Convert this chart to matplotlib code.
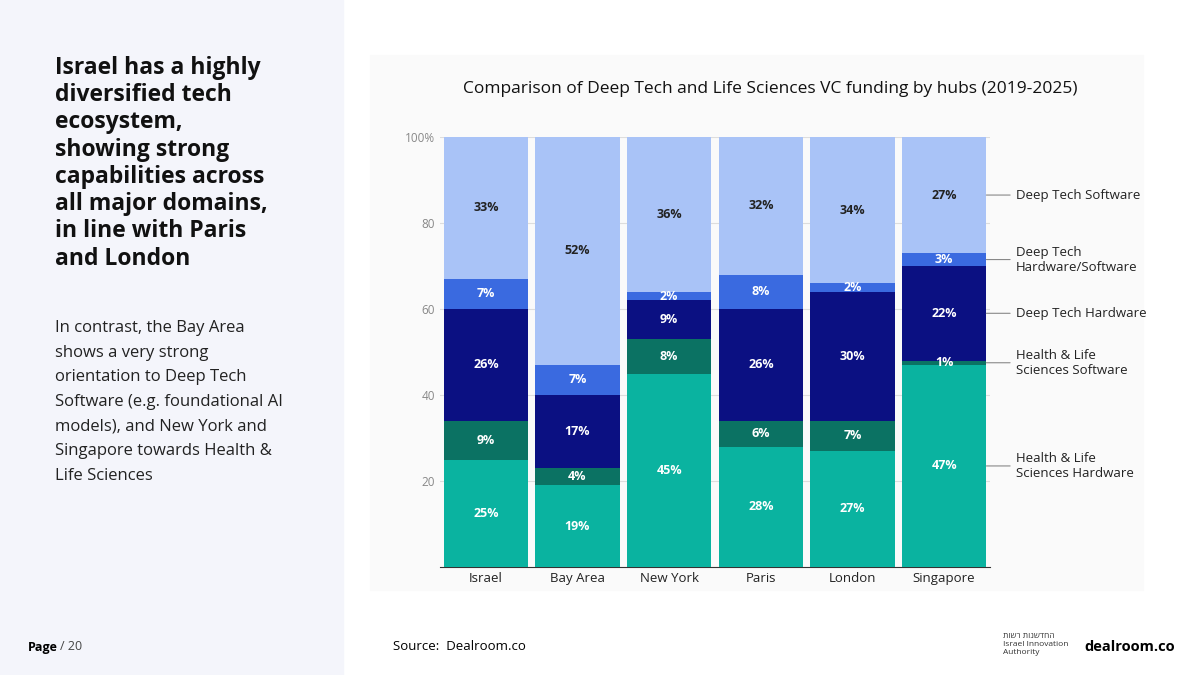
import numpy as np
import matplotlib.pyplot as plt

plt.rcParams['font.family'] = ['Open Sans', 'DejaVu Sans']

# Colour palette
HLS_HW = '#0AB3A0'
HLS_SW = '#0B7263'
DT_HW = '#0B1082'
DT_HWSW = '#3A6AE0'
DT_SW = '#A9C3F7'
PANEL = '#F4F5FB'

# ============================================
# 1. DATA
# ============================================
hubs = ['Israel', 'Bay Area', 'New York', 'Paris', 'London', 'Singapore']
segments = {
    'Health & Life\nSciences Hardware': [25, 19, 45, 28, 27, 47],
    'Health & Life\nSciences Software': [9, 4, 8, 6, 7, 1],
    'Deep Tech Hardware': [26, 17, 9, 26, 30, 22],
    'Deep Tech\nHardware/Software': [7, 7, 2, 8, 2, 3],
    'Deep Tech Software': [33, 53, 36, 32, 34, 27],
}
labels_shown = {'Deep Tech Software': [33, 52, 36, 32, 34, 27]}
colors = [HLS_HW, HLS_SW, DT_HW, DT_HWSW, DT_SW]
text_colors = ['white', 'white', 'white', 'white', '#222222']

# ============================================
# 2. FIGURE
# ============================================
fig = plt.figure(figsize=(12, 6.75), dpi=100)
bg = fig.add_axes([0, 0, 1, 1], zorder=-10)
bg.axis('off')
bg.set_xlim(0, 1200)
bg.set_ylim(675, 0)
bg.add_patch(plt.Rectangle((0, 0), 343, 675, color=PANEL))
bg.add_patch(plt.Rectangle((370, 55), 773, 535, color='#FAFAFA'))

fig.text(55 / 1200, 1 - 56 / 675, 'Israel has a highly\ndiversified tech\necosystem,\nshowing strong\ncapabilities across\nall major domains,\nin line with Paris\nand London',
         fontsize=16.5, fontweight='bold', va='top', linespacing=1.18, color='#111111')
fig.text(55 / 1200, 1 - 320 / 675, 'In contrast, the Bay Area\nshows a very strong\norientation to Deep Tech\nSoftware (e.g. foundational AI\nmodels), and New York and\nSingapore towards Health &\nLife Sciences',
         fontsize=12, va='top', linespacing=1.72, color='#222222')
fig.text(28 / 1200, 1 - 647 / 675, 'Page', fontsize=9, fontweight='bold', va='center')
fig.text(60 / 1200, 1 - 647 / 675, '/ 20', fontsize=9, va='center', color='#444444')
fig.text(393 / 1200, 1 - 647 / 675, 'Source:  Dealroom.co', fontsize=9.5, va='center')
fig.text(1003 / 1200, 1 - 645 / 675, 'תושר תונשדחה' + '\nIsrael Innovation\nAuthority', fontsize=6,
         va='center', color='#333333')
fig.text(1130 / 1200, 1 - 647 / 675, 'dealroom.co', fontsize=10.5, fontweight='bold', va='center', ha='center')
fig.text(770 / 1200, 1 - 89 / 675, 'Comparison of Deep Tech and Life Sciences VC funding by hubs (2019-2025)',
         fontsize=12.5, ha='center', va='center', color='#111111')

ax = fig.add_axes([440 / 1200, 108 / 675, 550 / 1200, 430 / 675])
ax.set_facecolor('#FAFAFA')
x = np.arange(len(hubs))
bottom = np.zeros(len(hubs))
for (name, vals), col, tc in zip(segments.items(), colors, text_colors):
    vals = np.array(vals, dtype=float)
    top_vals = np.minimum(vals, 100 - bottom)
    ax.bar(x, top_vals, bottom=bottom, width=0.92, color=col, zorder=3)
    shown = labels_shown.get(name, list(vals.astype(int)))
    for i in range(len(hubs)):
        mid = bottom[i] + top_vals[i] / 2
        ax.text(x[i], mid, f'{shown[i]}%', ha='center', va='center', color=tc,
                fontsize=9, fontweight='bold', zorder=4)
    # legend label on the right
    mid_s = bottom[-1] + top_vals[-1] / 2
    ax.annotate(name, xy=(x[-1] + 0.46, mid_s), xytext=(x[-1] + 0.78, mid_s),
                va='center', fontsize=9.5, color='#222222', annotation_clip=False,
                arrowprops=dict(arrowstyle='-', color='#888888', lw=0.8, shrinkA=2, shrinkB=0))
    bottom += top_vals

ax.set_xlim(-0.5, 5.5)
ax.set_ylim(0, 100)
ax.set_xticks(x)
ax.set_xticklabels(hubs, fontsize=9.5, color='#222222')
ax.set_yticks([20, 40, 60, 80, 100])
ax.set_yticklabels(['20', '40', '60', '80', '100%'], fontsize=8.5, color='#888888')
ax.tick_params(length=0)
ax.grid(axis='y', color='#DDDDDD', linewidth=0.8, zorder=0)
for s in ['top', 'right', 'left']:
    ax.spines[s].set_visible(False)
ax.spines['bottom'].set_color('#333333')

plt.savefig('out.png', dpi=100)
plt.close()
